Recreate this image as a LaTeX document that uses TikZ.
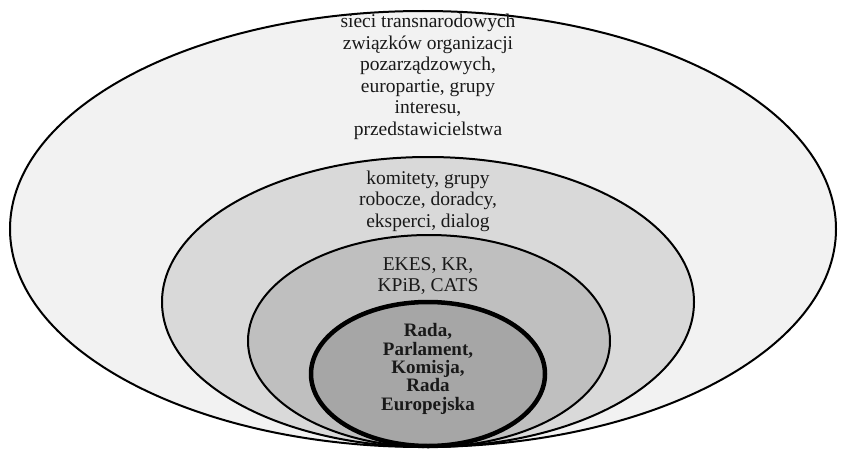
\documentclass[tikz,border=0pt]{standalone}
\usepackage{fontspec}
\setmainfont{Liberation Serif}
\usepackage{xcolor}
\usepackage{tikz}
\usetikzlibrary{positioning, shapes.geometric}

\definecolor{ringa}{HTML}{F2F2F2}
\definecolor{ringb}{HTML}{D9D9D9}
\definecolor{ringc}{HTML}{BFBFBF}
\definecolor{ringd}{HTML}{A6A6A6}

\begin{document}
\begin{tikzpicture}[x=1pt, y=1pt,
    ring/.style={draw, ellipse, inner sep=0pt, outer sep=0pt, line width=2pt},
    label/.style={align=center, text=black!90, font=\fontsize{19.5}{21.5}\selectfont}]
      \useasboundingbox (0, 0) rectangle (841, 451);

      % Rings, outside in
      \node[ring, fill=ringa, minimum width=826pt, minimum height=436pt] (outer) at (423, 222) {};
      \node[ring, fill=ringb, minimum width=532pt, minimum height=290pt] (advisory) at (428, 149) {};
      \node[ring, fill=ringc, minimum width=362pt, minimum height=212pt] (bodies) at (429, 110) {};
      \node[ring, fill=ringd, minimum width=234pt, minimum height=144pt, line width=4.5pt] (core) at (428, 77) {};

      % Labels
      \node[label] (outertext) at (428, 374) {sieci transnarodowych\\związków organizacji\\pozarządzowych,\\europartie, grupy\\interesu,\\przedstawicielstwa};
      \node[label] (advisorytext) at (428, 250) {komitety, grupy\\robocze, doradcy,\\eksperci, dialog};
      \node[label] (bodiestext) at (428, 175) {EKES, KR,\\KPiB, CATS};
      \node[label, font=\bfseries\fontsize{19}{18.4}\selectfont] (coretext) at (428, 82) {Rada,\\Parlament,\\Komisja,\\Rada\\Europejska};
    \end{tikzpicture}
\end{document}
